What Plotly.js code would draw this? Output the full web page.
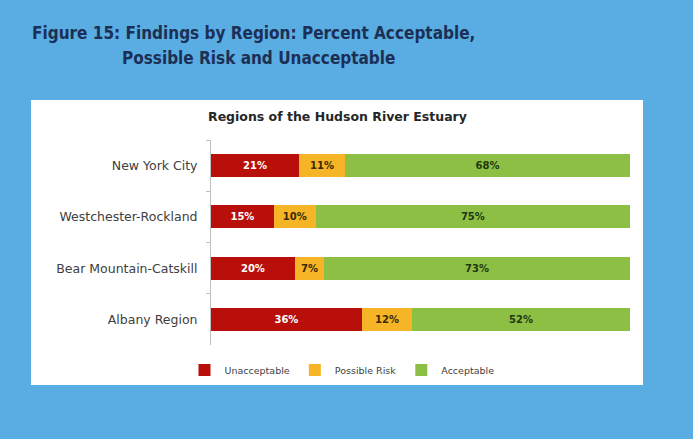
<!DOCTYPE html>
<html>
<head>
<meta charset="utf-8">
<script src="https://cdn.plot.ly/plotly-3.0.1.min.js"></script>
<style>html,body{margin:0;padding:0;background:#59ade2;}#chart{width:693px;height:439px;}</style>
</head>
<body>
<div id="chart"></div>
<script>
var regions = ["New York City", "Westchester-Rockland", "Bear Mountain-Catskill", "Albany Region"];
var unacceptable = [21, 15, 20, 36];
var possibleRisk = [11, 10, 7, 12];
var acceptable = [68, 75, 73, 52];
var seriesNames = ["Unacceptable", "Possible Risk", "Acceptable"];

function pct(arr){ return arr.map(function(v){ return v + "%"; }); }

var colors = ["#b80f0a", "#f5b527", "#8dbf45"];
var textColors = ["#ffffff", "#3a2a00", "#1f3a10"];
var vals = [unacceptable, possibleRisk, acceptable];

var traces = vals.map(function(v, i){
  return {
    type: "bar", orientation: "h",
    y: regions, x: v, name: seriesNames[i],
    text: pct(v), textposition: "inside", insidetextanchor: "middle",
    textfont: {family: "DejaVu Sans, sans-serif", size: 10, color: textColors[i], weight: "bold"},
    marker: {color: colors[i], line: {width: 0}},
    hoverinfo: "skip"
  };
});

var L = 211, R = 63, T = 140, B = 94, W = 693, H = 439;
var pw = W - L - R, ph = H - T - B;
function px(x){ return (x - L) / pw; }
function py(y){ return (H - B - y) / ph; }

var layout = {
  width: W, height: H,
  margin: {l: L, r: R, t: T, b: B, pad: 0},
  paper_bgcolor: "#59ade2",
  plot_bgcolor: "rgba(0,0,0,0)",
  barmode: "stack",
  bargap: 0.55,
  showlegend: true,
  legend: {
    orientation: "h", x: px(342), y: py(370), xanchor: "center", yanchor: "middle",
    font: {family: "DejaVu Sans, sans-serif", size: 9.5, color: "#404040"},
    traceorder: "normal", itemwidth: 30, bgcolor: "rgba(0,0,0,0)"
  },
  xaxis: {range: [0, 100], visible: false, fixedrange: true},
  yaxis: {
    autorange: "reversed", type: "category",
    showline: true, linecolor: "#bfbfbf", linewidth: 1,
    ticks: "outside", tickson: "boundaries", ticklen: 4, tickcolor: "#bfbfbf",
    showgrid: false, zeroline: false,
    tickfont: {family: "DejaVu Sans, sans-serif", size: 12.5, color: "#404040"},
    ticklabelstandoff: 10
  },
  shapes: [{
    type: "rect", xref: "paper", yref: "paper", layer: "below",
    x0: px(31), x1: px(643), y0: py(385), y1: py(100),
    fillcolor: "#ffffff", line: {width: 0}
  }],
  annotations: [
    {text: "<b>Figure 15: Findings by Region: Percent Acceptable,</b>", xref: "paper", yref: "paper",
     x: px(30), y: py(33), xanchor: "left", yanchor: "middle", showarrow: false,
     font: {family: "DejaVu Sans Condensed, DejaVu Sans, sans-serif", size: 17, color: "#1c2f55"}},
    {text: "<b>Possible Risk and Unacceptable</b>", xref: "paper", yref: "paper",
     x: px(120), y: py(58), xanchor: "left", yanchor: "middle", showarrow: false,
     font: {family: "DejaVu Sans Condensed, DejaVu Sans, sans-serif", size: 17, color: "#1c2f55"}},
    {text: "<b>Regions of the Hudson River Estuary</b>", xref: "paper", yref: "paper",
     x: px(337), y: py(117), xanchor: "center", yanchor: "middle", showarrow: false,
     font: {family: "DejaVu Sans, sans-serif", size: 12.5, color: "#262626"}}
  ]
};

Plotly.newPlot("chart", traces, layout, {displayModeBar: false, staticPlot: true});
</script>
</body>
</html>
